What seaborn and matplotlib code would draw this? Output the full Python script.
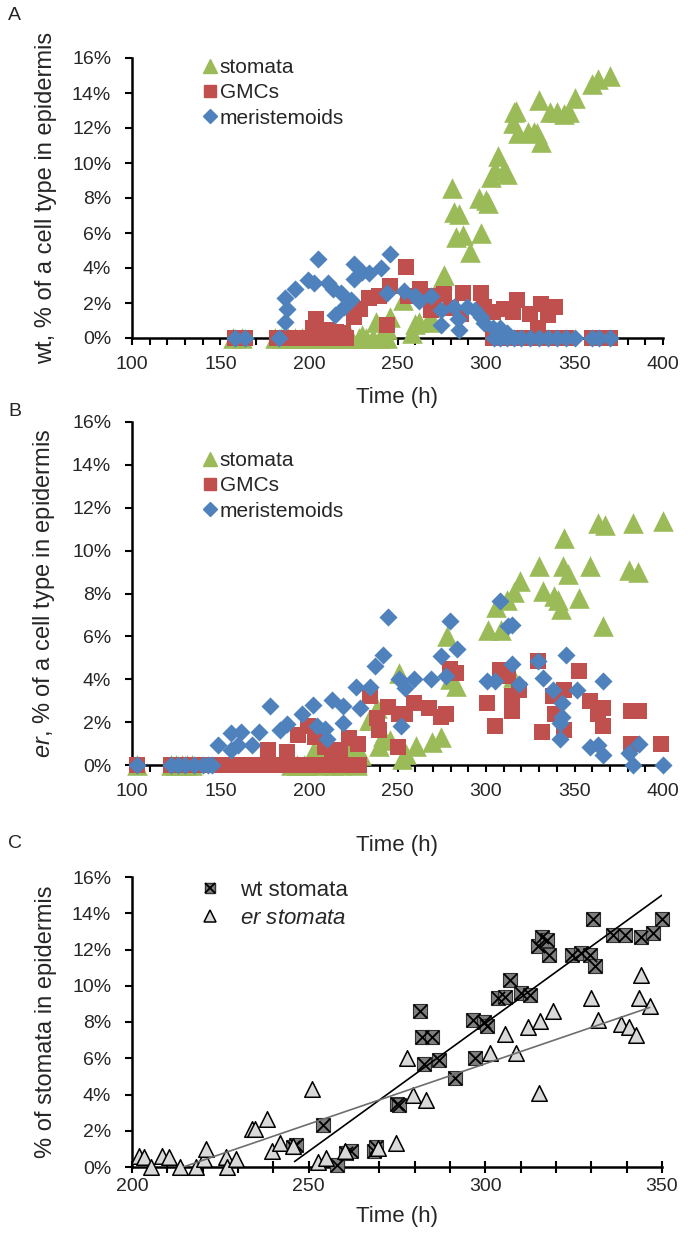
import matplotlib
matplotlib.use('Agg')
import matplotlib.pyplot as plt
from matplotlib.lines import Line2D
from matplotlib.ticker import MultipleLocator, PercentFormatter
import seaborn as sns

# ---- panel A: wild type, % of each cell type ----
wt_stomata_time = [157, 162, 181, 184, 188, 192, 196, 200, 204, 208, 212, 216, 220, 224, 228, 230,
                   232, 236, 238, 240, 244, 244, 246, 253, 258, 260, 262, 268, 270, 275, 276, 281,
                   282, 283, 285, 287, 291, 296, 297, 300, 301, 303, 305, 307, 310, 312, 315, 316,
                   317, 318, 324, 327, 329, 330, 331, 336, 340, 344, 347, 350, 360, 363, 370]
wt_stomata_pct = [0, 0, 0, 0, 0, 0, 0, 0, 0, 0, 0, 0, 0, 0, 0, 0.2,
                  0, 0, 0.9, 0, 0, 0.5, 1.2, 2.2, 0.3, 0.8, 0.9, 1.1, 0.9, 3.4, 3.6, 8.6,
                  7.2, 5.8, 7.1, 5.9, 4.9, 8.0, 6.0, 7.9, 7.7, 9.2, 9.6, 10.4, 9.6, 9.4, 12.3, 12.9,
                  13.0, 11.7, 11.8, 11.8, 11.7, 13.6, 11.2, 12.9, 12.9, 12.8, 12.9, 13.7, 14.5, 14.8, 15.0]

wt_gmc_time = [158, 164, 182, 186, 190, 194, 198, 206, 212, 218, 221, 202, 204, 210.5, 215, 219,
               225.6, 229, 234, 239.7, 244, 246, 255, 256, 262.5, 269, 270, 276.5, 280, 286, 287,
               297, 299, 303.7, 310, 315.5, 317.7, 325, 329.6, 330.8, 335, 339,
               304, 310, 315, 320, 324, 328, 335, 340, 345, 360, 364, 370]
wt_gmc_pct = [0, 0, 0, 0, 0, 0, 0, 0, 0, 0, 0, 0.55, 1.1, 0.45, 0.35, 0.3,
              1.2, 1.65, 2.3, 2.4, 0.75, 2.95, 4.05, 2.4, 2.8, 1.6, 2.4, 2.5, 1.7, 1.4, 2.6,
              2.6, 1.75, 1.5, 1.65, 1.5, 2.2, 1.4, 0.55, 1.95, 1.3, 1.75,
              0, 0, 0, 0, 0, 0, 0, 0, 0, 0, 0, 0]

wt_mer_time = [158, 164, 183, 186.6, 187.7, 186.6, 192, 199.6, 205, 203, 210.5, 213.7, 218, 214.8,
               220, 223.5, 225.7, 225.7, 230, 234, 240.8, 246, 244, 253.8, 260, 262.4, 269, 274.4,
               274.4, 282, 285, 284, 289.5, 294, 297, 299, 303.7, 308, 312,
               304.7, 308, 312, 316, 320, 325, 330, 335, 340, 345, 350, 360, 364, 370]
wt_mer_pct = [0, 0, 0, 0.9, 1.65, 2.3, 2.8, 3.3, 4.5, 3.15, 3.15, 2.8, 2.6, 1.3,
              1.75, 2.2, 4.25, 3.4, 3.8, 3.7, 4.0, 4.8, 2.6, 2.7, 2.4, 2.1, 2.4, 1.6,
              0.75, 1.75, 0.45, 1.1, 1.75, 1.6, 1.2, 0.85, 0.55, 0.55, 0.3,
              0, 0, 0, 0, 0, 0, 0, 0, 0, 0, 0, 0, 0, 0]

# ---- panel B: er mutant ----
er_stomata_time = [103, 122, 125, 128, 131, 134, 190, 193, 197, 199,
                   202, 203.5, 205.5, 208.5, 210.5, 213.5, 218, 220.5, 221, 226.5, 227, 229.5,
                   234, 234.8, 238.3, 239.6, 241.9, 245.6, 251, 252.6, 255, 260.3, 269.5, 274.6,
                   277.9, 279.6, 283.1, 301.3, 305.6, 308.6, 312, 315.6, 319.1, 315.1, 330, 332,
                   338.5, 340.8, 342.5, 343.6, 344, 346.5,
                   352.5, 358.8, 363, 366, 367.3, 381, 383, 386, 400]
er_stomata_pct = [0, 0, 0, 0, 0, 0, 0, 0, 0, 0,
                  0.6, 0.55, 0, 0.6, 0.55, 0, 0, 0.45, 1.0, 0.55, 0, 0.45,
                  2.1, 2.1, 2.65, 0.9, 1.35, 1.15, 4.3, 0.3, 0.5, 0.9, 1.05, 1.3,
                  6.0, 4.0, 3.7, 6.3, 7.35, 6.3, 7.7, 8.05, 8.6, 4.1, 9.3, 8.1,
                  7.9, 7.7, 7.3, 9.3, 10.6, 8.9,
                  7.8, 9.3, 11.3, 6.5, 11.2, 9.1, 11.3, 9.0, 11.4]

er_gmc_time = [103, 122, 125, 128, 131, 135, 140, 145, 150, 155, 160, 165, 170, 175, 180, 185,
               190, 195, 200, 205, 210, 215, 220, 225, 228,
               177, 187.7, 194, 199.3, 203.5, 208.8, 213, 217.3, 222.5, 227.8, 234.2, 238.4,
               239.5, 244.7, 250, 251, 254, 259.5, 268, 274.3, 277.5, 279.6, 282.8, 300.7, 305,
               308, 312.4, 314.5, 314.5, 318.7, 329.2, 331.4, 337.7, 338.8, 344, 344, 352.5,
               358.8, 363, 366.2, 366.2, 382, 386.3, 382, 399]
er_gmc_pct = [0, 0, 0, 0, 0, 0, 0, 0, 0, 0, 0, 0, 0, 0, 0, 0,
              0, 0, 0, 0, 0, 0, 0, 0, 0,
              0.7, 0.6, 1.4, 1.8, 1.3, 0.85, 0.55, 0.7, 1.25, 1.0, 3.2, 2.2,
              1.65, 2.7, 0.85, 2.4, 2.4, 2.9, 2.65, 2.25, 2.4, 4.5, 4.3, 2.9, 1.8,
              4.45, 4.15, 3.2, 2.5, 3.5, 4.85, 1.55, 3.2, 2.4, 3.5, 1.65, 4.4,
              3.0, 2.4, 1.8, 2.65, 2.5, 2.5, 1.0, 1.0]

er_mer_time = [103, 122, 126, 130, 135, 140, 143, 145,
               148.6, 156, 156, 160, 161.3, 167.6, 171.8, 178, 183.5, 187.7, 196, 202.5, 204.6,
               208.8, 209.9, 213, 219.4, 219.4, 226.8, 228.9, 234.2, 237.3, 241.6, 244.7, 251,
               254.2, 252, 259.5, 269, 274.3, 279.6, 283.8, 277.5, 300.7, 305, 308, 312.3, 314.5,
               314.5, 318.7, 329.2, 332.4, 337.7, 343, 345, 342, 343, 342, 351.4, 366.2, 358.8,
               363, 366.2, 381, 383, 386.3, 400]
er_mer_pct = [0, 0, 0, 0, 0, 0, 0, 0,
              0.95, 1.5, 0.7, 0.95, 1.55, 0.95, 1.55, 2.75, 1.65, 1.9, 2.4, 2.8, 1.8,
              1.7, 1.2, 3.05, 2.75, 1.95, 3.65, 2.65, 3.65, 4.6, 5.15, 6.9, 4.0,
              3.6, 1.8, 4.0, 4.0, 5.1, 6.7, 5.4, 4.15, 3.9, 3.9, 7.65, 6.5, 6.55,
              4.7, 3.8, 4.85, 4.05, 3.5, 2.9, 5.15, 1.95, 2.25, 1.2, 3.5, 3.9, 0.85,
              0.95, 0.45, 0.55, 0, 1.0, 0]

# ---- panel C: stomata only, wt vs er, with linear trends ----
wt_c_time = [245.6, 246.5, 254, 258, 260.5, 262, 268.5, 269, 275, 275.5, 281.5, 282, 282.5, 285,
             287, 291.5, 296.5, 297, 299.5, 300.5, 303.5, 305.5, 307, 310, 312.5, 315, 316, 317.5,
             318, 324.5, 327, 329.5, 330.5, 331, 336, 339.5, 344, 347.5, 350]
wt_c_pct = [1.1, 1.2, 2.3, 0.1, 0.8, 0.9, 0.9, 1.1, 3.5, 3.4, 8.6, 7.2, 5.7, 7.2,
            5.9, 4.9, 8.1, 6.0, 8.0, 7.8, 9.3, 9.4, 10.3, 9.6, 9.5, 12.2, 12.7, 12.5,
            11.7, 11.7, 11.8, 11.7, 13.7, 11.1, 12.8, 12.8, 12.7, 12.9, 13.7]

wt_trend_time = [246, 350]
wt_trend_pct = [0.3, 15.0]
er_trend_time = [214.5, 346.5]
er_trend_pct = [0.0, 8.8]

GREEN, RED, BLUE = '#9BBB59', '#C0504D', '#4F81BD'

sns.set_style('white')
plt.rcParams['font.family'] = ['Liberation Sans', 'DejaVu Sans']
plt.rcParams['mathtext.fontset'] = 'custom'
plt.rcParams['mathtext.rm'] = 'Liberation Sans'
plt.rcParams['mathtext.it'] = 'Liberation Sans:italic'

W, H = 700, 1235
fig = plt.figure(figsize=(W / 100, H / 100), dpi=100)


def box(left, top, right, bottom):
    return [left / W, 1 - bottom / H, (right - left) / W, (bottom - top) / H]


def base_axes(ax, xlim, tickdir, ticklen, xpad):
    ax.set_xlim(*xlim)
    ax.set_ylim(0, 16)
    ax.xaxis.set_major_locator(MultipleLocator(50))
    ax.xaxis.set_minor_locator(MultipleLocator(10))
    ax.yaxis.set_major_locator(MultipleLocator(2))
    ax.yaxis.set_major_formatter(PercentFormatter(100, decimals=0))
    for side in ['top', 'right']:
        ax.spines[side].set_visible(False)
    for side in ['left', 'bottom']:
        ax.spines[side].set_color('black')
        ax.spines[side].set_linewidth(1.8)
    ax.tick_params(axis='x', which='both', direction=tickdir, length=ticklen, width=1.5,
                   bottom=True, color='black', labelsize=14, pad=xpad)
    ax.tick_params(axis='y', which='major', direction='out', length=5, width=1.5,
                   left=True, color='black', labelsize=14, pad=10)
    ax.set_xlabel('Time (h)', fontsize=16)


def cell_panel(ax, stom, gmc, mer, ylabel, leg_top):
    sns.scatterplot(x=stom[0], y=stom[1], ax=ax, marker='^', color=GREEN, s=220,
                    linewidth=0, clip_on=False, zorder=3)
    sns.scatterplot(x=gmc[0], y=gmc[1], ax=ax, marker='s', color=RED, s=125,
                    linewidth=0, clip_on=False, zorder=3)
    sns.scatterplot(x=mer[0], y=mer[1], ax=ax, marker='D', color=BLUE, s=85,
                    linewidth=0, clip_on=False, zorder=3)
    base_axes(ax, (100, 400), 'out', 5, 8)
    ax.set_ylabel(ylabel, fontsize=17)
    handles = [Line2D([], [], ls='', marker='^', color=GREEN, markersize=10),
               Line2D([], [], ls='', marker='s', color=RED, markersize=8.5),
               Line2D([], [], ls='', marker='D', color=BLUE, markersize=7)]
    ax.legend(handles, ['stomata', 'GMCs', 'meristemoids'], loc='upper left',
              bbox_to_anchor=(0.136, leg_top), frameon=False, fontsize=15,
              handlelength=0.6, handletextpad=0.15, labelspacing=0.3,
              borderaxespad=0, borderpad=0)


axA = fig.add_axes(box(132, 58, 663, 338))
cell_panel(axA, (wt_stomata_time, wt_stomata_pct), (wt_gmc_time, wt_gmc_pct),
           (wt_mer_time, wt_mer_pct), 'wt, % of a cell type in epidermis', 1.0)
axA.yaxis.set_label_coords(-0.141, 0.5)
axA.xaxis.set_label_coords(0.5, -0.176)

axB = fig.add_axes(box(132, 422, 663, 765))
cell_panel(axB, (er_stomata_time, er_stomata_pct), (er_gmc_time, er_gmc_pct),
           (er_mer_time, er_mer_pct), r'$\mathit{er}$, % of a cell type in epidermis', 0.915)
axB.yaxis.set_label_coords(-0.141, 0.5)
axB.xaxis.set_label_coords(0.5, -0.203)

axC = fig.add_axes(box(132, 877, 662, 1167))
sns.scatterplot(x=wt_c_time, y=wt_c_pct, ax=axC, marker='s', color='#7F7F7F', s=100,
                edgecolor='#303030', linewidth=0.8, zorder=3)
sns.scatterplot(x=wt_c_time, y=wt_c_pct, ax=axC, marker='x', color='black', s=90,
                linewidth=1.3, zorder=3)
sns.scatterplot(x=er_stomata_time, y=er_stomata_pct, ax=axC, marker='^', color='#D9D9D9',
                s=125, edgecolor='black', linewidth=1.1, zorder=3)
sns.lineplot(x=wt_trend_time, y=wt_trend_pct, ax=axC, color='black', lw=1.2, zorder=4)
sns.lineplot(x=er_trend_time, y=er_trend_pct, ax=axC, color='#6E6E6E', lw=1.2, zorder=4)
base_axes(axC, (200, 350), 'inout', 8, 4)
# er points before 200 h are not part of panel C; keep zero points visible below the axis
for coll in axC.collections:
    coll.set_clip_on(False)
    offs = coll.get_offsets()
    keep = (offs[:, 0] >= 200) & (offs[:, 0] <= 350)
    coll.set_offsets(offs[keep])
axC.set_ylabel('% of stomata in epidermis', fontsize=17)
axC.yaxis.set_label_coords(-0.1415, 0.5)
axC.xaxis.set_label_coords(0.5, -0.134)
sq = Line2D([], [], ls='', marker='s', color='#7F7F7F', markeredgecolor='#303030', markersize=7.5)
cross = Line2D([], [], ls='', marker='x', color='black', markersize=7, markeredgewidth=1.3)
tri = Line2D([], [], ls='', marker='^', color='#D9D9D9', markeredgecolor='black',
             markeredgewidth=1.1, markersize=9)
axC.legend([(sq, cross), tri], ['wt stomata', r'$\mathit{er\ stomata}$'], loc='upper left',
           bbox_to_anchor=(0.126, 0.99), frameon=False, fontsize=16,
           handlelength=1.0, handletextpad=0.85, labelspacing=0.3,
           borderaxespad=0, borderpad=0)

for letter, ypix in [('A', 15), ('B', 412), ('C', 843)]:
    fig.text(8 / W, 1 - ypix / H, letter, fontsize=14, va='center', ha='left')

fig.savefig('out.png', dpi=100)
